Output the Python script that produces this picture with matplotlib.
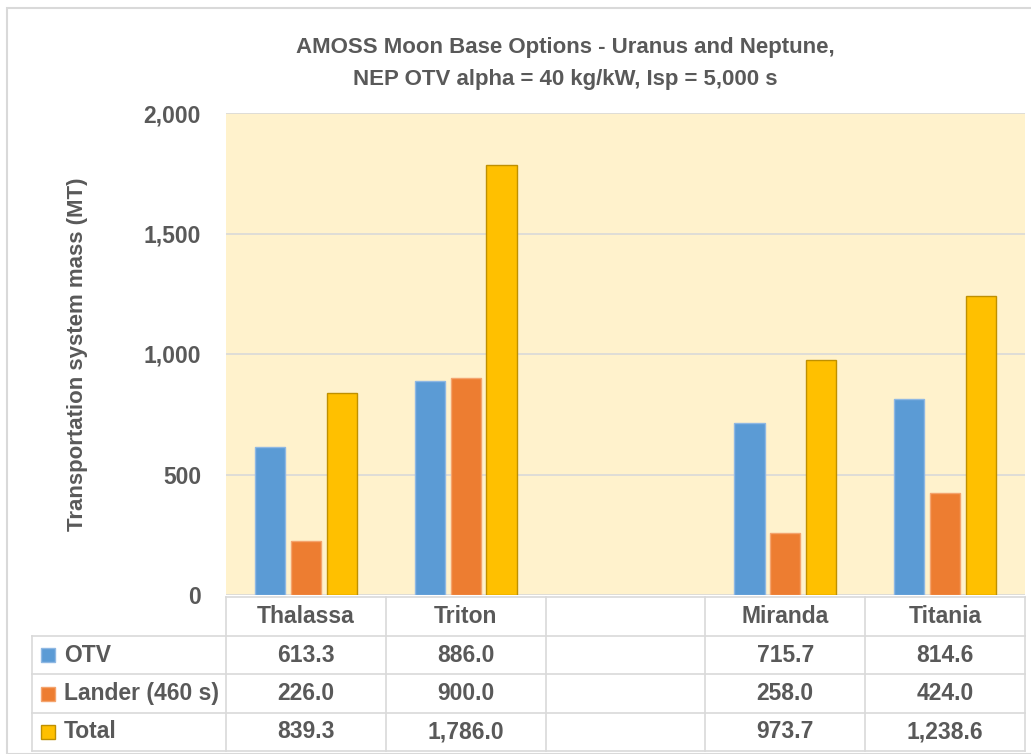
import matplotlib.pyplot as plt
from matplotlib import font_manager
from matplotlib.patches import Rectangle

# data
moons = ["Thalassa", "Triton", "", "Miranda", "Titania"]
series = ["OTV", "Lander (460 s)", "Total"]
otv = [613.3, 886.0, None, 715.7, 814.6]
lander = [226.0, 900.0, None, 258.0, 424.0]
total = [839.3, 1786.0, None, 973.7, 1238.6]
yticks = [0, 500, 1000, 1500, 2000]

colors = ["#5B9BD5", "#ED7D31", "#FFC000"]
edges = ["#8FB8E3", "#F4A46E", "#BF9000"]
txt = "#595959"

names = {f.name for f in font_manager.fontManager.ttflist}
family = "Liberation Sans Narrow" if "Liberation Sans Narrow" in names else "Liberation Sans"
plt.rcParams["font.family"] = [family, "DejaVu Sans"]
plt.rcParams["font.weight"] = "bold"

W, H = 1031, 754
fig = plt.figure(figsize=(W / 100, H / 100), dpi=100)


def fx(px):
    return px / W


def fy(py):
    return 1 - py / H


# outer chart border
fig.patches.append(Rectangle((fx(7), 0), 1.5, fy(8), transform=fig.transFigure,
                             fill=False, edgecolor="#D9D9D9", lw=1.5))

left, right, top, bottom = 226, 1025, 113, 595
ax = fig.add_axes([fx(left), fy(bottom), fx(right - left), (bottom - top) / H])
ax.set_facecolor("#FFF2CC")
ax.set_xlim(-0.5, len(moons) - 0.5)
ax.set_ylim(0, 2000)
ax.set_yticks(yticks)
ax.set_yticklabels([f"{v:,}" for v in yticks], color=txt, fontsize=16.5, fontweight="bold")
ax.tick_params(axis="y", length=0, pad=18)
ax.set_xticks([])
ax.grid(axis="y", color="#D9D9D9", lw=1.2)
ax.set_axisbelow(True)
for s in ax.spines.values():
    s.set_visible(False)

width = 0.19
step = 0.225
for k, vals in enumerate([otv, lander, total]):
    xs = [i + (k - 1) * step for i, v in enumerate(vals) if v is not None]
    hs = [v for v in vals if v is not None]
    ax.bar(xs, hs, width, color=colors[k], edgecolor=edges[k], lw=1, zorder=3)

ax.set_ylabel("Transportation system mass (MT)", color=txt, fontsize=16,
              fontweight="bold")
ax.yaxis.set_label_coords(fx(88 - left) / fx(right - left), 0.5)

fig.text(fx(565), fy(47), "AMOSS Moon Base Options - Uranus and Neptune,",
         ha="center", va="center", color=txt, fontsize=16, fontweight="bold")
fig.text(fx(565), fy(79), "NEP OTV alpha = 40 kg/kW, Isp = 5,000 s",
         ha="center", va="center", color=txt, fontsize=16, fontweight="bold")

# data table below the plot
tab_left = 32
tax = fig.add_axes([0, 0, 1, 1], zorder=5)
tax.set_xlim(0, W)
tax.set_ylim(H, 0)
tax.axis("off")
grid_c = "#D9D9D9"
colw = (right - left) / len(moons)
row_y = [597, 636, 674, 713, 751]
# horizontal lines
tax.plot([left, right], [row_y[0], row_y[0]], color=grid_c, lw=1.2)
for yy in row_y[1:]:
    tax.plot([tab_left, right], [yy, yy], color=grid_c, lw=1.2)
# vertical lines
tax.plot([tab_left, tab_left], [row_y[1], row_y[-1]], color=grid_c, lw=1.2)
for i in range(len(moons) + 1):
    xx = left + i * colw
    tax.plot([xx, xx], [row_y[0], row_y[-1]], color=grid_c, lw=1.2)

centers_y = [(row_y[j] + row_y[j + 1]) / 2 for j in range(4)]
for i, m in enumerate(moons):
    cx = left + (i + 0.5) * colw
    tax.text(cx, centers_y[0], m, ha="center", va="center", color=txt,
             fontsize=16.5, fontweight="bold")
    for r, vals in enumerate([otv, lander, total]):
        if vals[i] is not None:
            tax.text(cx, centers_y[r + 1], f"{vals[i]:,.1f}", ha="center", va="center",
                     color=txt, fontsize=16.5, fontweight="bold")
for r, name in enumerate(series):
    cy = centers_y[r + 1]
    tax.add_patch(Rectangle((41, cy - 7), 14, 14, facecolor=colors[r],
                            edgecolor=edges[r], lw=1))
    tax.text(64, cy, name, ha="left", va="center", color=txt, fontsize=16.5,
             fontweight="bold")

fig.savefig("out.png", dpi=100)
